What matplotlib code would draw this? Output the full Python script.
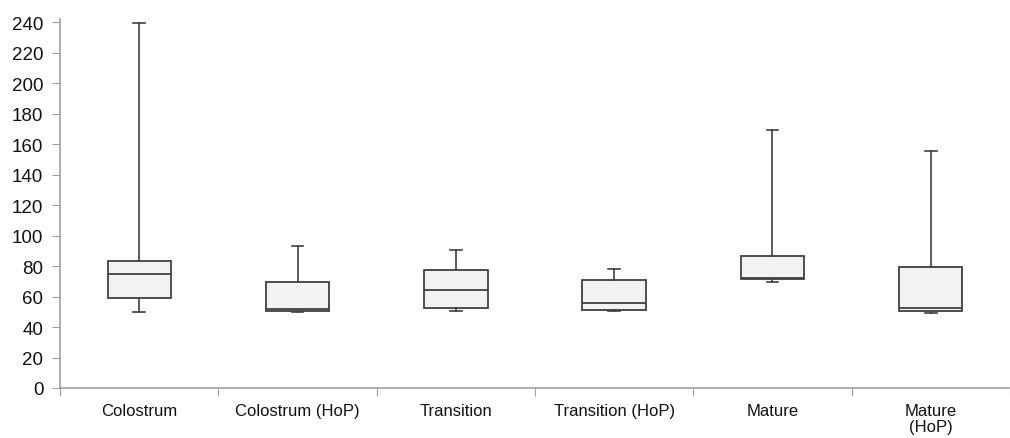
import matplotlib
matplotlib.use('Agg')
import matplotlib.pyplot as plt

plt.rcParams['font.family'] = ['Liberation Sans', 'DejaVu Sans']

# --- Data ---
groups  = ['Colostrum', 'Colostrum (HoP)', 'Transition', 'Transition (HoP)', 'Mature', 'Mature\n(HoP)']
w_low   = [49.8, 49.8, 50.7, 50.8, 69.7, 49.0]
q1      = [59.2, 50.5, 52.7, 51.3, 71.5, 50.5]
medians = [74.8, 51.8, 64.5, 55.7, 72.1, 52.7]
q3      = [83.5, 69.7, 77.6, 70.8, 86.3, 79.1]
w_high  = [239.3, 93.1, 90.7, 78.0, 169.2, 155.2]

stats = []
for i, g in enumerate(groups):
    stats.append(dict(label=g, whislo=w_low[i], q1=q1[i], med=medians[i],
                      q3=q3[i], whishi=w_high[i], fliers=[]))

fig = plt.figure(figsize=(10.1, 4.39), dpi=100)
ax = fig.add_axes([60 / 1010, 1 - 389 / 439, 950 / 1010, (389 - 20) / 439])

edge = '#404040'
ax.bxp(stats, positions=range(len(groups)), widths=0.4, patch_artist=True,
       showfliers=False, capwidths=0.075,
       boxprops=dict(facecolor='#f2f2f2', edgecolor=edge, linewidth=1.3),
       medianprops=dict(color=edge, linewidth=1.3),
       whiskerprops=dict(color=edge, linewidth=1.2),
       capprops=dict(color=edge, linewidth=1.2))

ax.set_ylim(0, 242)
ax.set_yticks(range(0, 241, 20))
ax.set_xlim(-0.5, 5.42)

# category separators as x ticks, labels centred under boxes
ax.set_xticks([i + 0.5 for i in range(-1, 6)], minor=False)
ax.set_xticklabels([])
ax.set_xticks(range(len(groups)), minor=True)
ax.set_xticklabels(groups, minor=True, fontsize=12, color='#111111', linespacing=1.1)
ax.tick_params(axis='x', which='major', length=6, color='#a0a0a0', direction='out')
ax.tick_params(axis='x', which='minor', length=0, pad=11)
ax.tick_params(axis='y', length=6, color='#a0a0a0', labelsize=13.5, labelcolor='#111111', pad=6)

for s in ['top', 'right']:
    ax.spines[s].set_visible(False)
for s in ['left', 'bottom']:
    ax.spines[s].set_color('#a0a0a0')
    ax.spines[s].set_linewidth(1.2)

fig.savefig('out.png', dpi=100, facecolor='white')
